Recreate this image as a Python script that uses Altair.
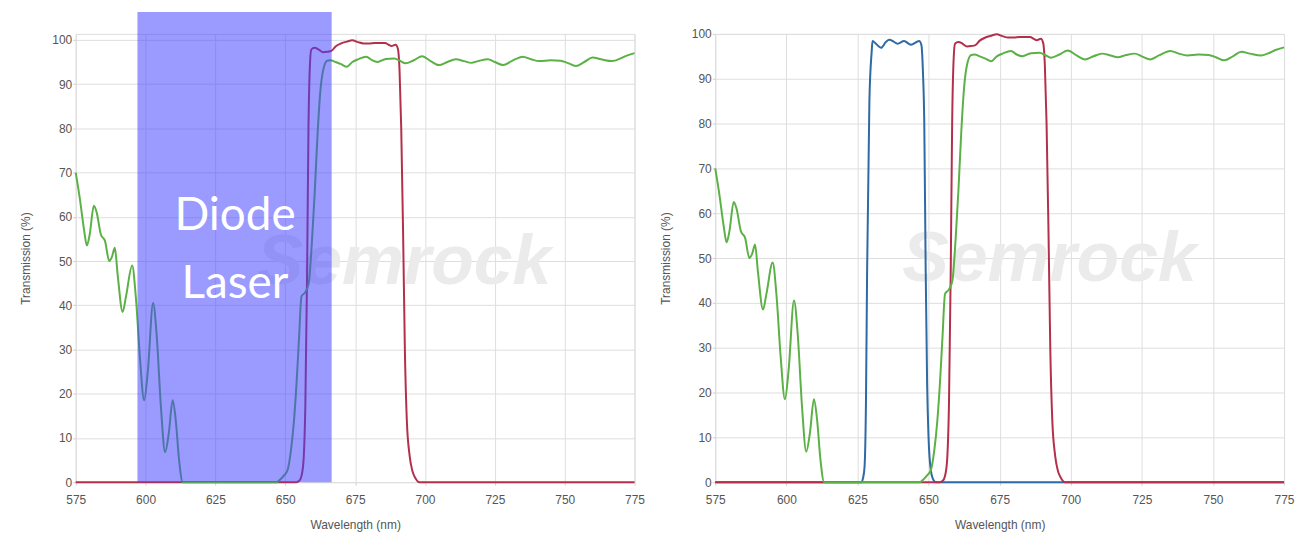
import altair as alt
import pandas as pd

# Wavelength axis (nm) and tick positions
x_ticks = [575, 600, 625, 650, 675, 700, 725, 750, 775]
y_ticks = [0, 10, 20, 30, 40, 50, 60, 70, 80, 90, 100]

# Longpass emission filter (green trace)
green_nm = [575, 576.5, 578, 579, 580, 581.5, 582.5, 584, 585.5, 587, 588, 589, 590,
            591.8, 593, 595.2, 596.5, 598, 599.5, 600.8, 602.7, 604, 605.5, 607,
            608.3, 609.7, 610.8, 612, 613.3, 615, 647, 648, 649.5, 650.8, 652, 653.1,
            654, 654.9, 655.8, 657.2, 658.4, 659.5, 660.5, 661.5, 662.5, 663.5, 665,
            666.2, 668, 670, 672, 674, 676, 679, 681, 683, 686, 689, 691, 693, 696,
            699, 702, 705, 708, 711, 714, 716.5, 719.5, 722.5, 725, 728, 731, 735,
            738, 741, 745, 748.5, 751, 754, 757, 760, 763, 767, 770, 772, 775]
green_t = [70, 64, 57, 53.5, 56, 62.5, 61, 56, 54.5, 50, 51, 53, 47,
           38.5, 42, 49, 42, 28, 18.5, 25, 40.5, 33, 17, 6.8,
           11, 18.5, 14, 5, 0, 0, 0, 0.5, 1.5, 2.7, 7, 13.8,
           22, 32.3, 42, 43, 45, 54, 65, 78, 88, 93, 95.3,
           95.4, 95, 94.5, 93.9, 95, 95.6, 96.2, 95.4, 95, 95.7, 95.8, 95.3, 94.7, 95.4,
           96.3, 95.2, 94.3, 95, 95.6, 95.2, 94.8, 95.3, 95.6, 95, 94.3, 95.2, 96.2,
           95.6, 95.2, 95.4, 95.3, 94.8, 94.1, 95, 96, 95.6, 95.2, 95.8, 96.4, 97]

# Dichroic / longpass edge (red trace)
red_nm = [575, 654, 655, 656, 656.6, 657.2, 657.8, 658.3, 658.8, 659.3, 660.5, 662,
          663.5, 665, 666.5, 668, 670, 672, 674, 676, 678, 680, 682, 684, 685.7,
          687, 688, 689.5, 690.3, 690.9, 691.5, 692.2, 692.8, 693.5, 694.5, 695.5,
          696.5, 698, 775]
red_t = [0, 0, 0.3, 2, 5.6, 18, 47, 80, 94, 97.8, 98.2, 97.8,
         97.2, 97.3, 97.5, 98.5, 99.2, 99.6, 99.9, 99.5, 99.2, 99.2, 99.3, 99.3, 99.3,
         98.9, 98.6, 98.9, 98, 93, 80, 55, 30, 14, 6, 2.5,
         1, 0, 0]

# Excitation bandpass (blue trace)
blue_nm = [575, 626.3, 627, 627.5, 628, 628.4, 629.2, 630, 630.3, 631.5, 633.3, 635,
           636.2, 637.7, 639.1, 641.4, 643.8, 646.7, 647.5, 648, 648.5, 649, 649.5,
           650, 650.8, 651.5, 652.5, 775]
blue_t = [0, 0, 1, 3.4, 18, 47, 85, 96, 98.4, 97.8, 96.9, 98.2,
          98.7, 98.3, 97.8, 98.4, 97.6, 98.4, 97.5, 92, 80, 47, 22,
          10, 2.7, 0.8, 0, 0]

# Diode laser band
laser_nm = [597.1, 666.6]

GREEN = "#5cb146"
RED = "#b3304c"
BLUE = "#2e6aa3"
FONT = "Liberation Sans"


def frame(nm, t):
    return pd.DataFrame({"nm": nm, "t": t})


def panel(width, y_top, traces, overlay=None):
    x_axis = alt.Axis(values=x_ticks, title="Wavelength (nm)", grid=True,
                      gridColor="#dedede", domain=False, tickColor="#d0d0d0",
                      tickSize=3, labelPadding=9, labelFontSize=12,
                      labelFlush=False,
                      labelColor="#555555", labelFont=FONT, titleFont=FONT,
                      titleFontSize=12, titleFontWeight="normal",
                      titleColor="#555555", titlePadding=15)
    y_axis = alt.Axis(values=y_ticks, title="Transmission (%)", grid=True,
                      gridColor="#dedede", domain=False, tickColor="#d0d0d0",
                      tickSize=3, labelPadding=1, labelFontSize=12,
                      labelColor="#555555", labelFont=FONT, titleFont=FONT,
                      titleFontSize=12, titleFontWeight="normal",
                      titleColor="#555555", titlePadding=19)
    xs = alt.Scale(domain=[575, 775], nice=False, zero=False)
    ys = alt.Scale(domain=[0, y_top], nice=False)

    mark_df = pd.DataFrame({"nm": [692.5], "t": [49.5], "label": ["Semrock"]})
    watermark = alt.Chart(mark_df).mark_text(
        font=FONT, fontSize=70, fontStyle="italic", fontWeight="bold",
        color="#ebebeb", baseline="middle", align="center"
    ).encode(x=alt.X("nm:Q", scale=xs, axis=x_axis),
             y=alt.Y("t:Q", scale=ys, axis=y_axis), text="label:N")

    layers = [watermark]
    for df, color in traces:
        layers.append(
            alt.Chart(df).mark_line(color=color, strokeWidth=2,
                                    interpolate="monotone").encode(
                x=alt.X("nm:Q", scale=xs, axis=x_axis),
                y=alt.Y("t:Q", scale=ys, axis=y_axis),
                order="nm:Q")
        )
    if overlay is not None:
        layers.extend(overlay(xs, ys))
    return alt.layer(*layers).properties(width=width, height=450)


def laser_overlay(xs, ys):
    band = pd.DataFrame({"x0": [laser_nm[0]], "x1": [laser_nm[1]],
                         "y0": [0], "y1": [106.3]})
    rect = alt.Chart(band).mark_rect(color="#4040ff", opacity=0.53).encode(
        x=alt.X("x0:Q", scale=xs), x2="x1:Q",
        y=alt.Y("y0:Q", scale=ys), y2="y1:Q")
    words = pd.DataFrame({"nm": [632, 632], "t": [60.2, 44.8],
                          "label": ["Diode", "Laser"]})
    text = alt.Chart(words).mark_text(
        font="Lato", fontSize=46, color="white", baseline="middle",
        align="center"
    ).encode(x=alt.X("nm:Q", scale=xs), y=alt.Y("t:Q", scale=ys),
             text="label:N")
    return [rect, text]


left = panel(561, 450 / 4.44,
             [(frame(red_nm, red_t), RED), (frame(green_nm, green_t), GREEN)],
             overlay=laser_overlay)

right = panel(571, 100,
              [(frame(blue_nm, blue_t), BLUE), (frame(red_nm, red_t), RED),
               (frame(green_nm, green_t), GREEN)])

chart = alt.hconcat(left, right, spacing=81, bounds="flush").properties(
    padding={"left": 19, "top": 10, "right": 0, "bottom": 0}
).configure_view(stroke=None).configure(background="white")

chart.save("out.html", embed_options={"renderer": "svg", "actions": False})
